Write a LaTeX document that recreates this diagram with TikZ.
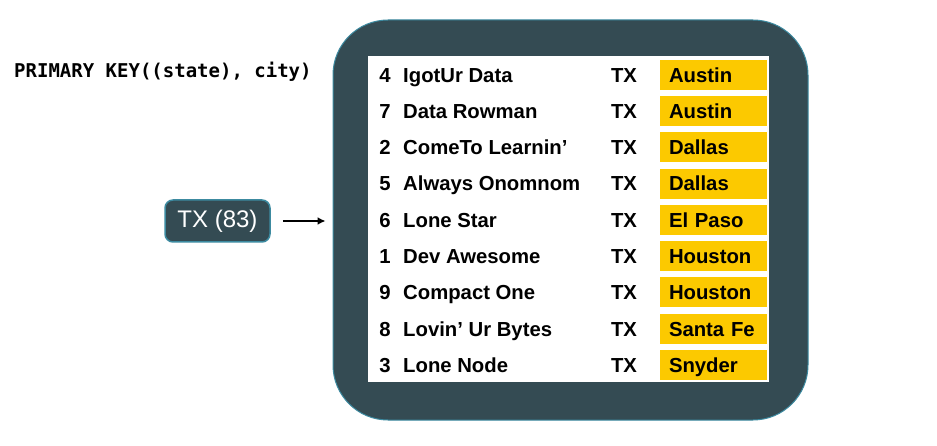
\documentclass[tikz,border=0pt]{standalone}
\usepackage{fontspec}
\setmainfont{Liberation Sans}
\setmonofont{DejaVu Sans Mono}
\usepackage{tikz}
\usetikzlibrary{arrows.meta}
\definecolor{slate}{HTML}{344B53}
\definecolor{rim}{HTML}{3C8AA0}
\definecolor{gold}{HTML}{FCC900}
\tikzset{
  cell/.style={font=\fontsize{20.3}{21}\selectfont\bfseries,inner sep=0pt,text height=14.5pt,text depth=0pt},
  citycell/.style={cell,fill=gold,minimum width=107pt,minimum height=30pt,text width=89pt,align=left,inner xsep=9pt}
}

\begin{document}
\begin{tikzpicture}[x=1pt,y=-1pt]
\useasboundingbox (0,0) rectangle (937,446);
%\draw [thick,red,dashed] (0,0) rectangle (937,446);
\node [anchor=base west,inner sep=0pt,font=\ttfamily\bfseries\fontsize{19}{20}\selectfont] (key) at(14,78){PRIMARY KEY((state), city)};

\node [draw=rim,fill=slate,line width=1pt,rounded corners=55pt,minimum width=475pt,minimum height=400pt] (tbl) at(570.5,220){};
\node [fill=white,minimum width=401pt,minimum height=326pt,inner sep=0pt] (sheet) at(568.5,219){};

\node [draw=rim,fill=slate,line width=1.5pt,rounded corners=8pt,minimum width=105pt,minimum height=42pt,text=white,font=\fontsize{24}{26}\selectfont] (part) at(217.5,221){TX (83)};

\foreach \n/\who/\town [count=\i from 0] in {4/IgotUr Data/Austin,7/Data Rowman/Austin,2/ComeTo Learnin’/Dallas,5/Always Onomnom/Dallas,6/Lone Star/El Paso,1/Dev Awesome/Houston,9/Compact One/Houston,8/Lovin’ Ur Bytes/Santa Fe,3/Lone Node/Snyder}{
  \node [cell] (num\i) at(385,75+36.25*\i){\n};
  \node [cell,anchor=west] (name\i) at(403,75+36.25*\i){\who};
  \node [cell] (st\i) at(624,75+36.25*\i){TX};
  \node [citycell] (city\i) at(713.5,75+36.25*\i){\town};
}

\draw[line width=1.6pt,-{Latex[length=8pt,width=8pt]},shorten <=12pt,shorten >=7pt](part.east) -- (part.east -| tbl.west);

\end{tikzpicture}
\end{document}
